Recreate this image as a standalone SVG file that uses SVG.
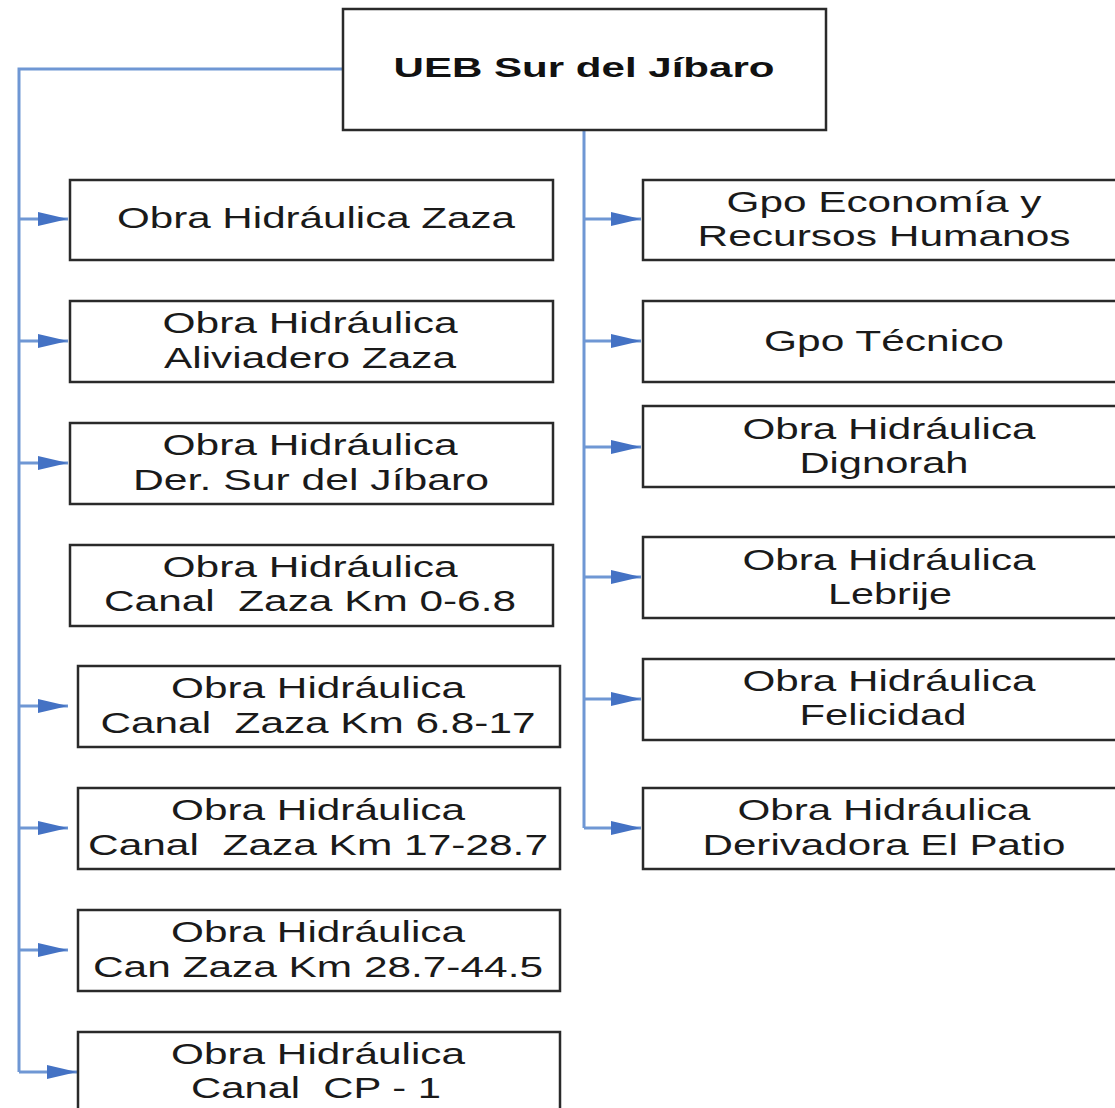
<svg xmlns="http://www.w3.org/2000/svg" width="1115" height="1108" viewBox="0 0 1115 1108">
<style>
.box{fill:#fff;stroke:#2a2a2a;stroke-width:2.5}
.shadow{fill:none;stroke:#b8b8b8;stroke-width:2}
.t{font-family:"Liberation Sans",Arial,sans-serif;font-size:30px;fill:#1a1a1a;text-anchor:middle}
.tb{font-family:"Liberation Sans",Arial,sans-serif;font-size:28px;font-weight:bold;fill:#111;text-anchor:middle}
.c{fill:none;stroke:#6f97d4;stroke-width:3}
</style>
<defs>
<marker id="ah" markerUnits="userSpaceOnUse" markerWidth="32" markerHeight="16" refX="30" refY="8" orient="auto">
<path d="M0,1 L30,8 L0,15 Z" fill="#4472c4"/>
</marker>
</defs>
<rect width="1115" height="1108" fill="#fff"/>
<g id="connectors">
<path class="c" d="M343,69 H19 V1072"/>
<path class="c" d="M584,130 V828"/>
<path class="c" d="M19,219 H68" marker-end="url(#ah)"/>
<path class="c" d="M19,341 H68" marker-end="url(#ah)"/>
<path class="c" d="M19,463 H68" marker-end="url(#ah)"/>
<path class="c" d="M19,706 H68" marker-end="url(#ah)"/>
<path class="c" d="M19,828 H68" marker-end="url(#ah)"/>
<path class="c" d="M19,950 H68" marker-end="url(#ah)"/>
<path class="c" d="M19,1072 H77" marker-end="url(#ah)"/>
<path class="c" d="M584,219 H641" marker-end="url(#ah)"/>
<path class="c" d="M584,341 H641" marker-end="url(#ah)"/>
<path class="c" d="M584,447 H641" marker-end="url(#ah)"/>
<path class="c" d="M584,577 H641" marker-end="url(#ah)"/>
<path class="c" d="M584,699 H641" marker-end="url(#ah)"/>
<path class="c" d="M584,828 H641" marker-end="url(#ah)"/>
</g>
<g id="root">
<rect class="box" x="343" y="9" width="483" height="121"/>
<text class="tb" x="584" y="77" textLength="381" lengthAdjust="spacingAndGlyphs">UEB Sur del Jíbaro</text>
</g>
<g id="l1">
<rect class="box" x="70" y="180" width="483" height="80"/>
<text class="t" x="316" y="228" textLength="398" lengthAdjust="spacingAndGlyphs">Obra Hidráulica Zaza</text>
</g>
<g id="l2">
<rect class="box" x="70" y="301" width="483" height="81"/>
<text class="t" x="310" y="333" textLength="295" lengthAdjust="spacingAndGlyphs">Obra Hidráulica</text>
<text class="t" x="310" y="368" textLength="292" lengthAdjust="spacingAndGlyphs">Aliviadero Zaza</text>
</g>
<g id="l3">
<rect class="box" x="70" y="423" width="483" height="81"/>
<text class="t" x="310" y="455" textLength="295" lengthAdjust="spacingAndGlyphs">Obra Hidráulica</text>
<text class="t" x="311" y="490" textLength="356" lengthAdjust="spacingAndGlyphs">Der. Sur del Jíbaro</text>
</g>
<g id="l4">
<rect class="box" x="70" y="545" width="483" height="81"/>
<text class="t" x="310" y="577" textLength="295" lengthAdjust="spacingAndGlyphs">Obra Hidráulica</text>
<text class="t" x="310" y="611" textLength="412" lengthAdjust="spacingAndGlyphs" xml:space="preserve">Canal  Zaza Km 0-6.8</text>
</g>
<g id="l5">
<rect class="box" x="78" y="666" width="482" height="81"/>
<text class="t" x="318" y="698" textLength="294" lengthAdjust="spacingAndGlyphs">Obra Hidráulica</text>
<text class="t" x="318" y="733" textLength="435" lengthAdjust="spacingAndGlyphs" xml:space="preserve">Canal  Zaza Km 6.8-17</text>
</g>
<g id="l6">
<rect class="box" x="78" y="788" width="482" height="81"/>
<text class="t" x="318" y="820" textLength="294" lengthAdjust="spacingAndGlyphs">Obra Hidráulica</text>
<text class="t" x="318" y="855" textLength="460" lengthAdjust="spacingAndGlyphs" xml:space="preserve">Canal  Zaza Km 17-28.7</text>
</g>
<g id="l7">
<rect class="box" x="78" y="910" width="482" height="81"/>
<text class="t" x="318" y="942" textLength="294" lengthAdjust="spacingAndGlyphs">Obra Hidráulica</text>
<text class="t" x="318" y="977" textLength="450" lengthAdjust="spacingAndGlyphs">Can Zaza Km 28.7-44.5</text>
</g>
<g id="l8">
<rect class="box" x="78" y="1032" width="482" height="90"/>
<text class="t" x="318" y="1064" textLength="294" lengthAdjust="spacingAndGlyphs">Obra Hidráulica</text>
<text class="t" x="316" y="1098" textLength="250" lengthAdjust="spacingAndGlyphs" xml:space="preserve">Canal  CP - 1</text>
</g>
<g id="r1">
<rect class="box" x="643" y="180" width="490" height="80"/>
<text class="t" x="884" y="212" textLength="315" lengthAdjust="spacingAndGlyphs">Gpo Economía y</text>
<text class="t" x="884" y="246" textLength="373" lengthAdjust="spacingAndGlyphs">Recursos Humanos</text>
</g>
<g id="r2">
<rect class="box" x="643" y="301" width="490" height="81"/>
<text class="t" x="884" y="351" textLength="240" lengthAdjust="spacingAndGlyphs">Gpo Técnico</text>
</g>
<g id="r3">
<rect class="box" x="643" y="406" width="490" height="81"/>
<text class="t" x="889" y="439" textLength="293" lengthAdjust="spacingAndGlyphs">Obra Hidráulica</text>
<text class="t" x="884" y="473" textLength="169" lengthAdjust="spacingAndGlyphs">Dignorah</text>
</g>
<g id="r4">
<rect class="box" x="643" y="537" width="490" height="81"/>
<text class="t" x="889" y="570" textLength="293" lengthAdjust="spacingAndGlyphs">Obra Hidráulica</text>
<text class="t" x="890" y="604" textLength="124" lengthAdjust="spacingAndGlyphs">Lebrije</text>
</g>
<g id="r5">
<rect class="box" x="643" y="659" width="490" height="81"/>
<text class="t" x="889" y="691" textLength="293" lengthAdjust="spacingAndGlyphs">Obra Hidráulica</text>
<text class="t" x="883" y="725" textLength="167" lengthAdjust="spacingAndGlyphs">Felicidad</text>
</g>
<g id="r6">
<rect class="box" x="643" y="788" width="490" height="81"/>
<text class="t" x="884" y="820" textLength="293" lengthAdjust="spacingAndGlyphs">Obra Hidráulica</text>
<text class="t" x="884" y="855" textLength="363" lengthAdjust="spacingAndGlyphs">Derivadora El Patio</text>
</g>
</svg>
